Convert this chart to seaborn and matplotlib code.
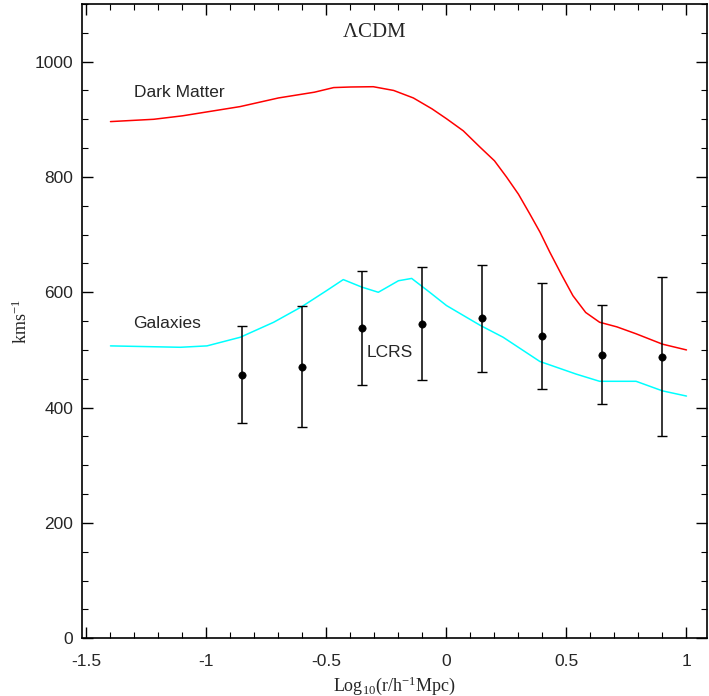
import matplotlib
matplotlib.use("Agg")
import matplotlib.pyplot as plt
import seaborn as sns
import numpy as np
import pandas as pd
from matplotlib.ticker import MultipleLocator

# Dark matter curve
dm_x = [-1.40, -1.22, -1.10, -0.86, -0.70, -0.55, -0.47, -0.40, -0.305, -0.22, -0.138, -0.06,
        0.0, 0.07, 0.139, 0.20, 0.25, 0.30, 0.347, 0.39, 0.43, 0.48, 0.527, 0.58, 0.638,
        0.71, 0.79, 0.90, 1.0]
dm_y = [896, 900, 906, 922, 937, 947, 955, 956, 956.5, 950, 937, 918,
        901, 880, 852, 828, 800, 770, 736, 704, 670, 630, 594, 565, 548,
        540, 528, 510, 500]

# Galaxies curve
gal_x = [-1.40, -1.109, -0.998, -0.859, -0.72, -0.603, -0.499, -0.43, -0.353, -0.284, -0.20,
         -0.145, -0.07, 0.0, 0.139, 0.236, 0.389, 0.541, 0.638, 0.79, 0.90, 1.0]
gal_y = [507, 504.6, 507, 522, 548, 575, 603, 622, 609, 600, 620,
         624, 600, 577, 543, 522, 480, 458, 445.6, 445.6, 429, 420]

# LCRS points with asymmetric errors
lcrs_x = [-0.85, -0.60, -0.35, -0.10, 0.15, 0.40, 0.65, 0.90]
lcrs_y = [457, 471, 538, 545, 555, 524, 492, 488]
lcrs_hi = [541, 576, 637, 643, 648, 616, 578, 626]
lcrs_lo = [373, 367, 439, 447, 462, 432, 406, 351]

sns.set_style("ticks")
plt.rcParams['font.family'] = ['Liberation Sans', 'DejaVu Sans']
plt.rcParams['mathtext.fontset'] = 'custom'
plt.rcParams['mathtext.rm'] = 'Liberation Serif'
plt.rcParams['mathtext.it'] = 'Liberation Serif'

fig = plt.figure(figsize=(7.09, 6.96), dpi=100)
ax = fig.add_axes([0.1152, 0.0830, 0.8818, 0.9113])

dm = pd.DataFrame({"x": dm_x, "y": dm_y})
gal = pd.DataFrame({"x": gal_x, "y": gal_y})
sns.lineplot(data=dm, x="x", y="y", ax=ax, color="red", lw=1.1, sort=False)
sns.lineplot(data=gal, x="x", y="y", ax=ax, color="cyan", lw=1.1, sort=False)

yerr = [np.array(lcrs_y) - np.array(lcrs_lo), np.array(lcrs_hi) - np.array(lcrs_y)]
ax.errorbar(lcrs_x, lcrs_y, yerr=yerr, fmt="none", ecolor="black", elinewidth=1.1,
            capsize=3.5, capthick=1.0)
sns.scatterplot(x=lcrs_x, y=lcrs_y, ax=ax, color="black", s=28, edgecolor="black", zorder=5)

ax.text(-0.302, 1050, r"$\Lambda$CDM", family="Liberation Serif", fontsize=15,
        ha="center", va="center")
ax.text(-1.304, 946, "Dark Matter", fontsize=12.5, ha="left", va="center")
ax.text(-1.304, 545, "Galaxies", fontsize=12.5, ha="left", va="center")
ax.text(-0.332, 496, "LCRS", fontsize=12.5, ha="left", va="center")

ax.set_xlim(-1.52, 1.085)
ax.set_ylim(0, 1100)
ax.xaxis.set_major_locator(MultipleLocator(0.5))
ax.xaxis.set_minor_locator(MultipleLocator(0.1))
ax.yaxis.set_major_locator(MultipleLocator(200))
ax.yaxis.set_minor_locator(MultipleLocator(50))
ax.set_xticks([-1.5, -1, -0.5, 0, 0.5, 1])
ax.set_xticklabels(["-1.5", "-1", "-0.5", "0", "0.5", "1"])
ax.tick_params(which="both", direction="in", top=True, right=True, labelsize=12.5, color="black")
ax.tick_params(which="major", length=8, width=1)
ax.tick_params(which="minor", length=4.5, width=0.8)
ax.tick_params(axis="x", which="major", pad=11)
ax.tick_params(axis="y", which="major", pad=6)
for s in ax.spines.values():
    s.set_linewidth(1.2)
    s.set_color("black")

ax.set_xlabel(r"Log$_{10}$(r/h$^{-1}$Mpc)", family="Liberation Serif", fontsize=13, labelpad=4)
ax.set_ylabel(r"kms$^{-1}$", family="Liberation Serif", fontsize=13, labelpad=3)

fig.savefig("out.png", dpi=100)
